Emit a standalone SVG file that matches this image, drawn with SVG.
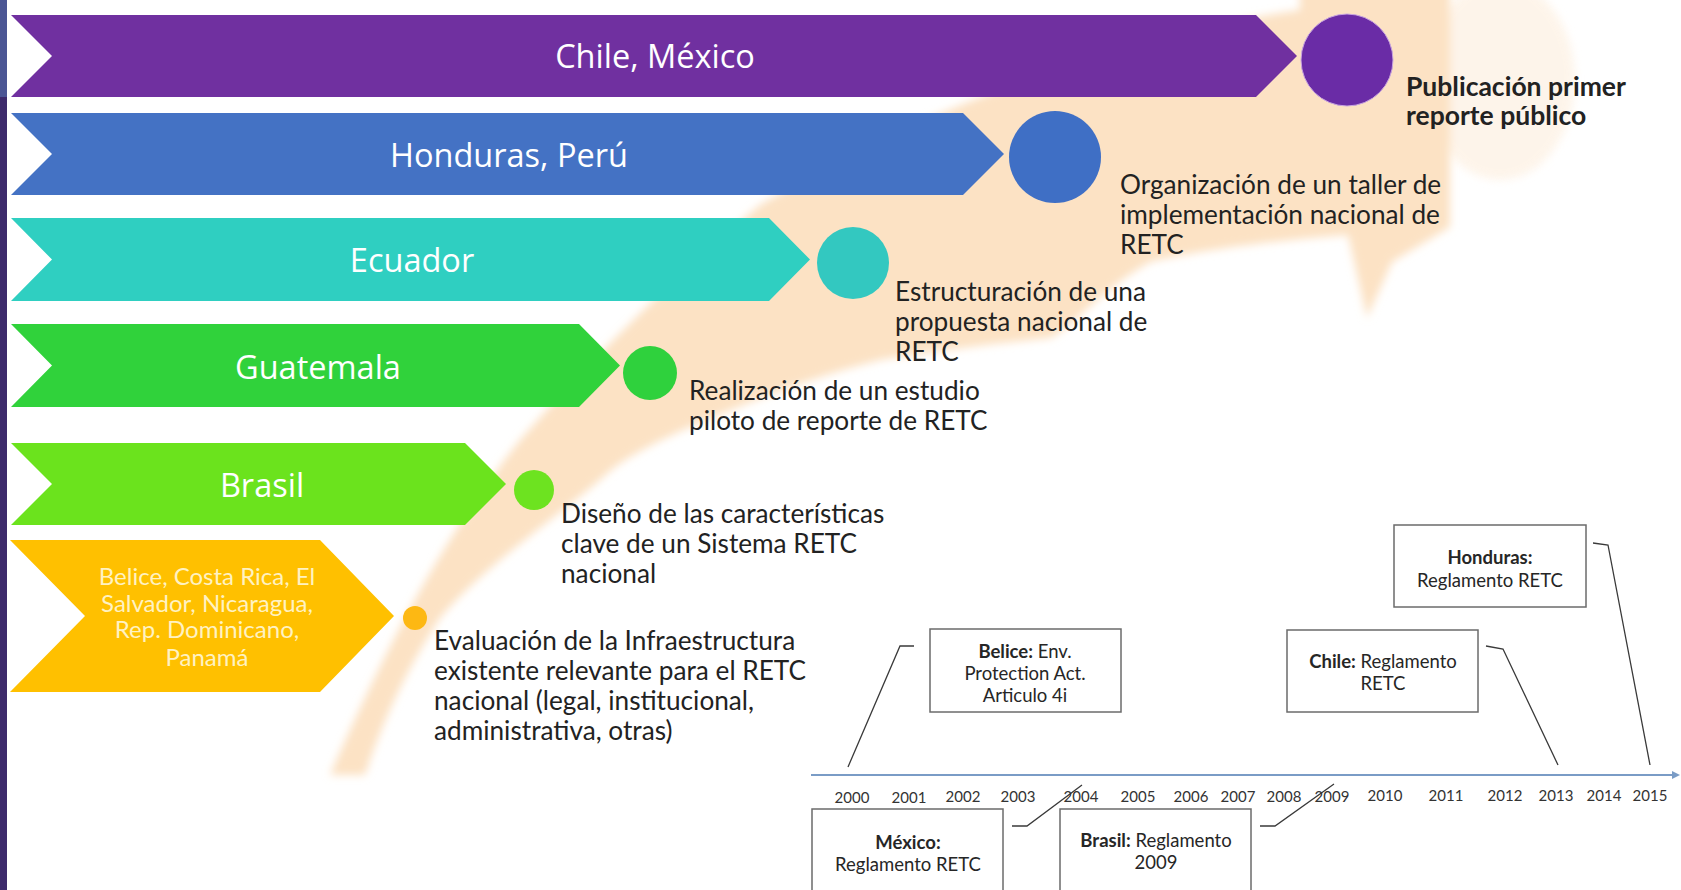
<svg xmlns="http://www.w3.org/2000/svg" width="1681" height="890" viewBox="0 0 1681 890">
<defs>
<style>
.lbl{font-family:"Open Sans","DejaVu Sans",sans-serif;font-size:32.5px;fill:#ffffff;text-anchor:middle}
.desc{font-family:Lato,"Liberation Sans",sans-serif;font-size:26.2px;fill:#222222}
.bold{font-weight:bold;font-size:26.5px}
.box{fill:#ffffff;stroke:#6b6b6b;stroke-width:1.5}
.btxt{font-family:Lato,"Liberation Sans",sans-serif;font-size:18.5px;fill:#262626;text-anchor:middle}
.yr{font-family:Lato,"Liberation Sans",sans-serif;font-size:15px;fill:#333333;text-anchor:middle}
.conn{fill:none;stroke:#3a3a3a;stroke-width:1.3}
</style>
<filter id="soft" x="-10%" y="-10%" width="120%" height="120%"><feGaussianBlur stdDeviation="4"/></filter>
<marker id="axarr" markerWidth="8" markerHeight="8" refX="6" refY="4" orient="auto" markerUnits="userSpaceOnUse"><path d="M0,0 L8,4 L0,8 Z" fill="#7a9cc6"/></marker>
</defs>
<rect x="0" y="0" width="1681" height="890" fill="#ffffff"/>
<g id="background-arrow">
<ellipse cx="1500" cy="80" rx="75" ry="100" fill="#fdeedd" filter="url(#soft)" opacity="0.6"/>
<path filter="url(#soft)" fill="#fce2c4" d="M330,775 C380,660 440,540 520,440 C590,360 670,280 760,205 C900,120 1100,40 1300,10 L1300,-10 L1450,-10 L1450,227 L1392,262 L1367,318 L1348,235 C1280,240 1200,250 1150,262 C1100,290 1070,330 1050,338 C980,345 930,352 880,360 C800,380 730,410 683,430 C650,445 620,460 600,480 C540,530 480,570 440,618 C400,680 380,730 365,775 Z"/>
</g>
<g id="left-strip">
<rect x="0" y="0" width="7" height="97" fill="#4b5694"/>
<rect x="0" y="97" width="7" height="793" fill="#3d2a6b"/>
</g>
<g id="node-chile-mexico">
<polygon points="11,15 1256,15 1297,56 1256,97 11,97 52,56" fill="#7030a0"/>
<text class="lbl" x="655" y="68">Chile, México</text>
<circle cx="1347" cy="60" r="46" fill="#6a2ca6" stroke="#c9a6e0" stroke-width="1"/>
</g>
<g id="node-honduras-peru">
<polygon points="11,113 963,113 1004,154 963,195 11,195 52,154" fill="#4472c4"/>
<text class="lbl" x="509" y="167">Honduras, Perú</text>
<circle cx="1055" cy="157" r="46" fill="#3f6fc5"/>
</g>
<g id="node-ecuador">
<polygon points="11,218 769,218 810,259.5 769,301 11,301 52,259.5" fill="#2fcfc1"/>
<text class="lbl" x="412" y="272">Ecuador</text>
<circle cx="853" cy="263" r="36" fill="#33c8c0"/>
</g>
<g id="node-guatemala">
<polygon points="11,324 579,324 620,365.5 579,407 11,407 52,365.5" fill="#30d23b"/>
<text class="lbl" x="318" y="379">Guatemala</text>
<circle cx="650" cy="373" r="27" fill="#2fd13d"/>
</g>
<g id="node-brasil">
<polygon points="11,443 465,443 506,484 465,525 11,525 52,484" fill="#6be31d"/>
<text class="lbl" x="262" y="497">Brasil</text>
<circle cx="534" cy="490" r="20" fill="#6de320"/>
</g>
<g id="node-belice-group">
<polygon points="10,540 320,540 394,616 320,692 10,692 85,616" fill="#ffc000"/>
<g font-family="Lato, 'Liberation Sans', sans-serif" font-size="24" fill="#fff2c2" text-anchor="middle">
<text x="207" y="585">Belice, Costa Rica, El</text>
<text x="207" y="612">Salvador, Nicaragua,</text>
<text x="207" y="638">Rep. Dominicano,</text>
<text x="207" y="666">Panamá</text>
</g>
<circle cx="415" cy="618" r="12" fill="#fdb813"/>
</g>
<g id="step-texts">
<text class="desc bold" x="1406" y="96">Publicación primer</text>
<text class="desc bold" x="1406" y="125">reporte público</text>
<text class="desc" x="1120" y="194">Organización de un taller de</text>
<text class="desc" x="1120" y="224">implementación nacional de</text>
<text class="desc" x="1120" y="254">RETC</text>
<text class="desc" x="895" y="301">Estructuración de una</text>
<text class="desc" x="895" y="331">propuesta nacional de</text>
<text class="desc" x="895" y="361">RETC</text>
<text class="desc" x="689" y="400">Realización de un estudio</text>
<text class="desc" x="689" y="430">piloto de reporte de RETC</text>
<text class="desc" x="561" y="523">Diseño de las características</text>
<text class="desc" x="561" y="553">clave de un Sistema RETC</text>
<text class="desc" x="561" y="583">nacional</text>
<text class="desc" x="434" y="650">Evaluación de la Infraestructura</text>
<text class="desc" x="434" y="680">existente relevante para el RETC</text>
<text class="desc" x="434" y="710">nacional (legal, institucional,</text>
<text class="desc" x="434" y="740">administrativa, otras)</text>
</g>
<g id="connectors">
<line x1="811" y1="775" x2="1678" y2="775" stroke="#7a9cc6" stroke-width="2" marker-end="url(#axarr)"/>
<polyline class="conn" points="848,767 900,646 914,646"/>
<polyline class="conn" points="1486,646 1503,649 1558,765"/>
<polyline class="conn" points="1593,543 1608,545 1650,765"/>
<polyline class="conn" points="1012,826 1027,826 1082,785"/>
<polyline class="conn" points="1260,826 1275,826 1334,784"/>
</g>
<g id="years">
<text class="yr" x="852" y="803">2000</text>
<text class="yr" x="909" y="803">2001</text>
<text class="yr" x="963" y="802">2002</text>
<text class="yr" x="1018" y="802">2003</text>
<text class="yr" x="1081" y="802">2004</text>
<text class="yr" x="1138" y="802">2005</text>
<text class="yr" x="1191" y="802">2006</text>
<text class="yr" x="1238" y="802">2007</text>
<text class="yr" x="1284" y="802">2008</text>
<text class="yr" x="1332" y="802">2009</text>
<text class="yr" x="1385" y="801">2010</text>
<text class="yr" x="1446" y="801">2011</text>
<text class="yr" x="1505" y="801">2012</text>
<text class="yr" x="1556" y="801">2013</text>
<text class="yr" x="1604" y="801">2014</text>
<text class="yr" x="1650" y="801">2015</text>
</g>
<g id="node-belice-law">
<rect class="box" x="930" y="629" width="191" height="83"/>
<text class="btxt" x="1025" y="658"><tspan font-weight="bold">Belice:</tspan> Env.</text>
<text class="btxt" x="1025" y="680">Protection Act.</text>
<text class="btxt" x="1025" y="702">Articulo 4i</text>
</g>
<g id="node-chile-law">
<rect class="box" x="1287" y="630" width="191" height="82"/>
<text class="btxt" x="1383" y="668"><tspan font-weight="bold">Chile:</tspan> Reglamento</text>
<text class="btxt" x="1383" y="690">RETC</text>
</g>
<g id="node-honduras-law">
<rect class="box" x="1394" y="525" width="192" height="82"/>
<text class="btxt" x="1490" y="564" font-weight="bold">Honduras:</text>
<text class="btxt" x="1490" y="587">Reglamento RETC</text>
</g>
<g id="node-mexico-law">
<rect class="box" x="812" y="809" width="191" height="90"/>
<text class="btxt" x="908" y="849" font-weight="bold">México:</text>
<text class="btxt" x="908" y="871">Reglamento RETC</text>
</g>
<g id="node-brasil-law">
<rect class="box" x="1060" y="809" width="191" height="90"/>
<text class="btxt" x="1156" y="847"><tspan font-weight="bold">Brasil:</tspan> Reglamento</text>
<text class="btxt" x="1156" y="869">2009</text>
</g>
</svg>
